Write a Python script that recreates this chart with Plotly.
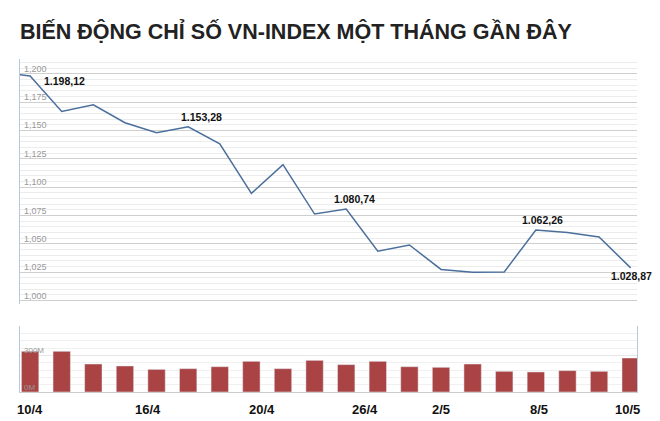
import plotly.graph_objects as go

line_x = [-0.4, 0, 1, 2, 3, 4, 5, 6, 7, 8, 9, 10, 11, 12, 13, 14, 15, 16, 17, 18, 19]
line_y = [1199.4, 1198.12, 1166.8, 1172.6, 1156.8, 1148, 1153.28, 1138.3, 1094.5, 1119.8,
          1076.3, 1080.74, 1043.5, 1049, 1027.5, 1025, 1025.3, 1062.26, 1060, 1056, 1028.87]
vol_x = list(range(20))
volumes = [333, 333, 229, 213, 185, 191, 207, 251, 191, 259, 224, 251, 207, 202, 229, 169, 164, 175, 169, 278]
date_pos = [0, 3.73, 7.33, 10.6, 13, 16.1, 18.9]
date_labels = ["10/4", "16/4", "20/4", "26/4", "2/5", "8/5", "10/5"]
ytick_vals = [1000, 1025, 1050, 1075, 1100, 1125, 1150, 1175, 1200]
ytick_text = ["1,000", "1,025", "1,050", "1,075", "1,100", "1,125", "1,150", "1,175", "1,200"]
callouts = [(0, 1198.12, "1.198,12"), (5, 1153.28, "1.153,28"), (10, 1080.74, "1.080,74"),
            (16, 1062.26, "1.062,26"), (19, 1028.87, "1.028,87")]
callout_shift = [(12, -5), (-9, 10), (-14, 10), (-16, 10), (-22, -8)]

OFF = 8
W, H = 660 - OFF, 421 - OFF
def px(x):
    return (x - OFF) / W
def py(y):
    return 1 - (y - OFF) / H

fig = go.Figure()
fig.add_trace(go.Scatter(x=line_x, y=line_y, mode="lines", line=dict(color="#4a6f9c", width=1.5),
                         xaxis="x", yaxis="y", hoverinfo="skip"))
fig.add_trace(go.Bar(x=vol_x, y=volumes, marker_color="#aa4444", width=0.55,
                     xaxis="x2", yaxis="y2"))

xr = [-0.32, 19.2]
ann = [dict(text="<b>BIẾN ĐỘNG CHỈ SỐ VN-INDEX MỘT THÁNG GẦN ĐÂY</b>", xref="paper", yref="paper",
            x=px(18), y=py(31), xanchor="left", yanchor="middle", showarrow=False,
            font=dict(size=21.5, color="#222"))]
for i, ((x, y, t), (dx, dy)) in enumerate(zip(callouts, callout_shift)):
    ann.append(dict(text="<b>%s</b>" % t, x=x, y=y, xref="x", yref="y", showarrow=False,
                    xanchor="left", yshift=dy, xshift=dx,
                    font=dict(size=10.5, color="#111")))
for v, t in zip(ytick_vals, ytick_text):
    ann.append(dict(text=t, x=px(22), y=v, xref="paper", yref="y", showarrow=False,
                    xanchor="left", yanchor="bottom", yshift=-2, font=dict(size=9, color="#999")))
for v, t in zip(date_pos, date_labels):
    ann.append(dict(text="<b>%s</b>" % t, x=v, y=py(409), xref="x2", yref="paper", showarrow=False,
                    xanchor="center", yanchor="middle", font=dict(size=13, color="#111")))
for v, t in zip([0, 300], ["0M", "300M"]):
    ann.append(dict(text=t, x=px(22), y=v, xref="paper", yref="y2", showarrow=False,
                    xanchor="left", yanchor="bottom", yshift=-2, font=dict(size=8, color="#999")))

fig.update_layout(
    width=W, height=H, margin=dict(l=0, r=0, t=0, b=0), showlegend=False,
    paper_bgcolor="white", plot_bgcolor="white",
    font=dict(family="Liberation Sans, Arial, sans-serif"),
    xaxis=dict(domain=[px(20), px(637)], range=xr, showticklabels=False, showgrid=False,
               zeroline=False, showline=False),
    yaxis=dict(domain=[py(304), py(59)], range=[997, 1213], tickvals=ytick_vals, showticklabels=False,
               gridcolor="#cfcfcf", minor=dict(dtick=5, showgrid=True, gridcolor="#ececec"),
               zeroline=False, showline=True, linecolor="#b8c8dc"),
    xaxis2=dict(domain=[px(20), px(637)], range=xr, anchor="y2", showticklabels=False,
                showgrid=False, zeroline=False, showline=True, linecolor="#ccc"),
    yaxis2=dict(domain=[py(392), py(326)], range=[0, 540], tickvals=[0, 300], showticklabels=False,
                gridcolor="#e6e6e6", minor=dict(dtick=60, showgrid=True, gridcolor="#f0f0f0"),
                zeroline=False, showline=True, linecolor="#b8c8dc", mirror=True),
    annotations=ann,
)
fig.write_html("out.html")
